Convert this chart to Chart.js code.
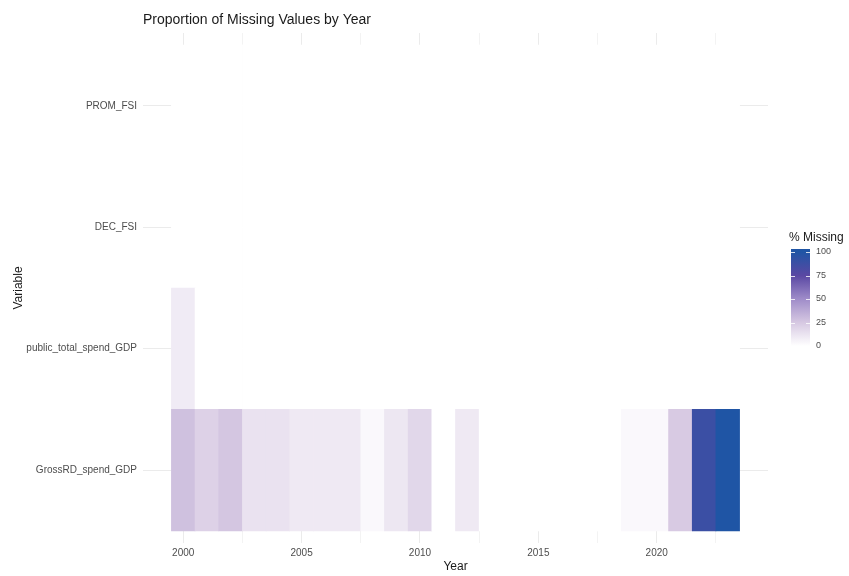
<!DOCTYPE html>
<html>
<head>
<meta charset="utf-8">
<script src="https://cdn.jsdelivr.net/npm/chart.js@4.4.1/dist/chart.umd.min.js"></script>
<style>
  html, body { margin: 0; padding: 0; background: #ffffff; }
  #wrap { width: 849px; height: 576px; }
</style>
</head>
<body>
<div id="wrap"><canvas id="c" width="849" height="576"></canvas></div>
<script>
// Years on the x axis and variables on the y axis (bottom to top)
const years = [2000, 2001, 2002, 2003, 2004, 2005, 2006, 2007, 2008, 2009, 2010, 2011,
               2012, 2013, 2014, 2015, 2016, 2017, 2018, 2019, 2020, 2021, 2022, 2023];
const variables = ['GrossRD_spend_GDP', 'public_total_spend_GDP', 'DEC_FSI', 'PROM_FSI'];

// Percentage of missing values per variable and year
const missGrossRD     = [28, 21, 26, 13, 13, 10, 10, 10, 3, 11, 18, 0, 10, 0, 0, 0, 0, 0, 0, 3, 3, 24, 88, 100];
const missPublicTotal = [9, 0, 0, 0, 0, 0, 0, 0, 0, 0, 0, 0, 0, 0, 0, 0, 0, 0, 0, 0, 0, 0, 0, 0];
const missDEC         = [0, 0, 0, 0, 0, 0, 0, 0, 0, 0, 0, 0, 0, 0, 0, 0, 0, 0, 0, 0, 0, 0, 0, 0];
const missPROM        = [0, 0, 0, 0, 0, 0, 0, 0, 0, 0, 0, 0, 0, 0, 0, 0, 0, 0, 0, 0, 0, 0, 0, 0];

// Axis ticks
const xMajorTicks = [2000, 2005, 2010, 2015, 2020];
const xMinorTicks = [2002.5, 2007.5, 2012.5, 2017.5, 2022.5];
const legendTicks = [0, 25, 50, 75, 100];

const seriesByVariable = [missGrossRD, missPublicTotal, missDEC, missPROM];

// Fill colour ramp for % missing
const rampStops  = [0, 25, 50, 75, 100];
const rampColors = ['#ffffff', '#d6c8e2', '#9f8cc9', '#5a48a3', '#1f55a5'];

function hexToRgb(h) {
  const n = parseInt(h.slice(1), 16);
  return [(n >> 16) & 255, (n >> 8) & 255, n & 255];
}
function fillFor(v) {
  if (v <= rampStops[0]) return rampColors[0];
  for (let i = 1; i < rampStops.length; i++) {
    if (v <= rampStops[i]) {
      const t = (v - rampStops[i - 1]) / (rampStops[i] - rampStops[i - 1]);
      const a = hexToRgb(rampColors[i - 1]), b = hexToRgb(rampColors[i]);
      const c = a.map((x, k) => Math.round(x + (b[k] - x) * t));
      return `rgb(${c[0]},${c[1]},${c[2]})`;
    }
  }
  return rampColors[rampColors.length - 1];
}

const FONT = '"Liberation Sans", Arial, Helvetica, sans-serif';

// One floating-bar dataset per variable: each cell spans one year and one row
const datasets = variables.map((name, row) => ({
  label: name,
  data: years.map((yr, i) => ({ x: yr, y: [row - 0.5, row + 0.5], v: seriesByVariable[row][i] })),
  backgroundColor: ctx => fillFor(ctx.raw ? ctx.raw.v : 0),
  borderWidth: 0,
  grouped: false,
  barPercentage: 1,
  categoryPercentage: 1
}));

// Title drawn aligned with the plot panel
const titlePlugin = {
  id: 'panelTitle',
  afterDraw(chart) {
    const { ctx, chartArea } = chart;
    ctx.save();
    ctx.font = `14px ${FONT}`;
    ctx.fillStyle = '#1a1a1a';
    ctx.textAlign = 'left';
    ctx.textBaseline = 'middle';
    ctx.fillText('Proportion of Missing Values by Year', chartArea.left, 20);
    ctx.restore();
  }
};

// Continuous colour bar legend
const colorbarPlugin = {
  id: 'colorbar',
  afterDraw(chart) {
    const { ctx } = chart;
    const x0 = 791, w = 19, yTop = 249, yBot = 349;
    const y100 = 252, y0 = 346;
    const yFor = v => y0 + (y100 - y0) * v / 100;
    ctx.save();
    ctx.font = `12px ${FONT}`;
    ctx.fillStyle = '#1a1a1a';
    ctx.textAlign = 'left';
    ctx.textBaseline = 'middle';
    ctx.fillText('% Missing', 789, 238);

    const g = ctx.createLinearGradient(0, y0, 0, y100);
    rampStops.forEach((s, i) => g.addColorStop(s / 100, rampColors[i]));
    ctx.fillStyle = rampColors[0];
    ctx.fillRect(x0, y0, w, yBot - y0);
    ctx.fillStyle = rampColors[rampColors.length - 1];
    ctx.fillRect(x0, yTop, w, y100 - yTop);
    ctx.fillStyle = g;
    ctx.fillRect(x0, y100, w, y0 - y100);

    ctx.strokeStyle = 'rgba(255,255,255,0.8)';
    ctx.lineWidth = 1;
    ctx.font = `9px ${FONT}`;
    ctx.fillStyle = '#4d4d4d';
    legendTicks.forEach(v => {
      const y = Math.round(yFor(v)) + 0.5;
      ctx.beginPath();
      ctx.moveTo(x0, y); ctx.lineTo(x0 + 4, y);
      ctx.moveTo(x0 + w - 4, y); ctx.lineTo(x0 + w, y);
      ctx.stroke();
      ctx.fillText(String(v), 816, yFor(v));
    });
    ctx.restore();
  }
};

new Chart(document.getElementById('c'), {
  type: 'bar',
  data: { datasets },
  options: {
    responsive: false,
    animation: false,
    devicePixelRatio: 1,
    layout: { padding: { left: 0, right: 81, top: 33, bottom: 0 } },
    plugins: {
      legend: { display: false },
      title: { display: false },
      tooltip: { enabled: false }
    },
    scales: {
      x: {
        type: 'linear',
        offset: false,
        min: 1998.3,
        max: 2024.7,
        afterBuildTicks: s => {
          s.ticks = xMajorTicks.concat(xMinorTicks).sort((a, b) => a - b).map(v => ({ value: v }));
        },
        afterFit: s => { s.height = 33; },
        border: { display: false },
        grid: {
          offset: false,
          color: '#ebebeb',
          lineWidth: c => (c.tick && xMajorTicks.includes(c.tick.value)) ? 1 : 0.6,
          drawTicks: false
        },
        ticks: {
          autoSkip: false,
          maxRotation: 0,
          padding: 4,
          color: '#4d4d4d',
          font: { family: FONT, size: 10 },
          callback: v => xMajorTicks.includes(v) ? String(v) : ''
        },
        title: {
          display: true,
          text: 'Year',
          color: '#1a1a1a',
          font: { family: FONT, size: 12 },
          padding: { top: 0, bottom: 2 }
        }
      },
      y: {
        type: 'linear',
        offset: false,
        min: -0.6,
        max: 3.6,
        afterBuildTicks: s => {
          s.ticks = variables.map((_, i) => ({ value: i }));
        },
        afterFit: s => { s.width = 143; },
        border: { display: false },
        grid: { offset: false, color: '#ebebeb', lineWidth: 1, drawTicks: false },
        ticks: {
          autoSkip: false,
          padding: 6,
          color: '#4d4d4d',
          font: { family: FONT, size: 10 },
          callback: v => variables[v] !== undefined ? variables[v] : ''
        },
        title: {
          display: true,
          text: 'Variable',
          color: '#1a1a1a',
          font: { family: FONT, size: 12 },
          padding: { top: 11, bottom: 0 }
        }
      }
    }
  },
  plugins: [titlePlugin, colorbarPlugin]
});
</script>
</body>
</html>
